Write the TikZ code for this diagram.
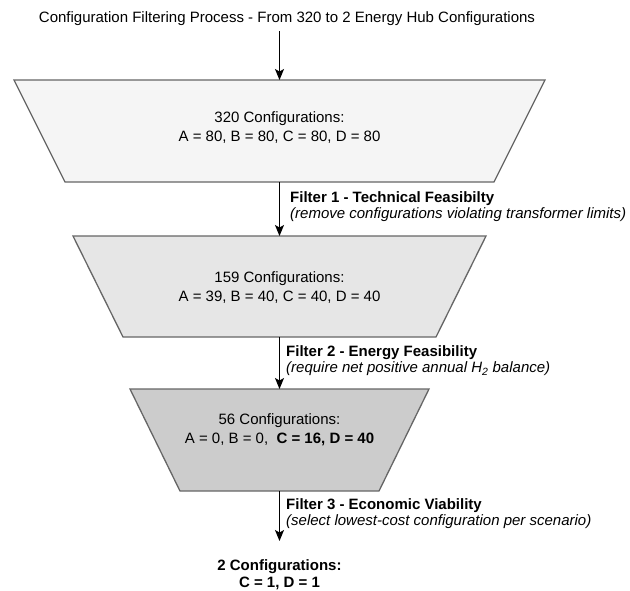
\documentclass[tikz,border=0pt]{standalone}
\usepackage{fontspec}
\setmainfont{Liberation Sans}
\usetikzlibrary{arrows.meta}
\definecolor{edgegray}{HTML}{666666}
\definecolor{fillA}{HTML}{F5F5F5}
\definecolor{fillB}{HTML}{E6E6E6}
\definecolor{fillC}{HTML}{CCCCCC}
\begin{document}
\begin{tikzpicture}[x=1pt,y=-1pt,
  stage/.style={draw=edgegray, line width=1.3pt, line join=miter},
  flow/.style={-{Stealth[length=11pt,width=9pt,inset=2.5pt]}, line width=1.1pt},
  boxtext/.style={font=\fontsize{15}{19}\selectfont, align=center, inner sep=0pt},
  filterlabel/.style={font=\fontsize{15}{16}\selectfont, align=left, anchor=west, inner sep=0pt}]
\useasboundingbox (0,0) rectangle (630,590);

% title
\node[font=\fontsize{15}{18}\selectfont, inner sep=0pt] (title) at (287,19)
  {Configuration Filtering Process - From 320 to 2 Energy Hub Configurations};
\coordinate (t-out) at (279.5,31);

% funnel stages (top edge, bottom edge)
\filldraw[stage, fill=fillA] (14,80) -- (545,80) -- (494,182) -- (65,182) -- cycle;
\coordinate (s1-n) at (279.5,80);  \coordinate (s1-s) at (279.5,182);
\filldraw[stage, fill=fillB] (73,236) -- (486,236) -- (436,337) -- (123,337) -- cycle;
\coordinate (s2-n) at (279.5,236); \coordinate (s2-s) at (279.5,337);
\filldraw[stage, fill=fillC] (130,389) -- (429,389) -- (379,491) -- (180,491) -- cycle;
\coordinate (s3-n) at (279.5,389); \coordinate (s3-s) at (279.5,491);

\node[boxtext] (n1) at (279.5,128) {320 Configurations:\\A = 80, B = 80, C = 80, D = 80};
\node[boxtext] (n2) at (279.5,288) {159 Configurations:\\A = 39, B = 40, C = 40, D = 40};
\node[boxtext] (n3) at (279.5,430) {56 Configurations:\\A = 0, B = 0,\ \ \textbf{C = 16, D = 40}};

% result
\node[boxtext, font=\fontsize{15}{17}\selectfont\bfseries] (res) at (279.5,575)
  {2 Configurations:\\C = 1, D = 1};
\coordinate (r-in) at (279.5,541);

% connectors
\draw[flow] (t-out) -- (s1-n);
\draw[flow] (s1-s) -- (s2-n);
\draw[flow] (s2-s) -- (s3-n);
\draw[flow] (s3-s) -- (r-in);

% filter labels
\node[filterlabel] (f1) at (290,207)
  {\textbf{Filter 1 - Technical Feasibilty}\\\textit{(remove configurations violating transformer limits)}};
\node[filterlabel] (f2) at (286,361)
  {\textbf{Filter 2 - Energy Feasibility}\\\textit{(require net positive annual H\textsubscript{2} balance)}};
\node[filterlabel] (f3) at (286,514)
  {\textbf{Filter 3 - Economic Viability}\\\textit{(select lowest-cost configuration per scenario)}};
\end{tikzpicture}
\end{document}
